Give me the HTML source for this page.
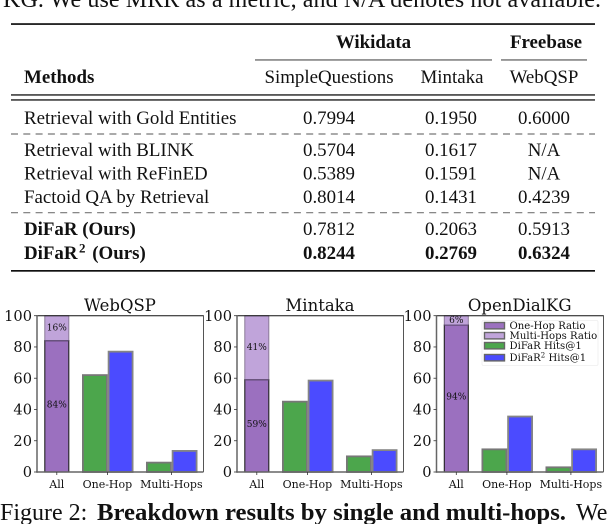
<!DOCTYPE html>
<html>
<head>
<meta charset="utf-8">
<style>
html,body{margin:0;padding:0;background:#fff;width:608px;height:524px;overflow:hidden}
svg{display:block;filter:blur(0.3px)}
.tt{font-family:"Liberation Serif",serif;font-size:18.9px;fill:#111}
.b{font-weight:bold}
.c{text-anchor:middle}
.cap{font-family:"Liberation Serif",serif;font-size:24px;fill:#111}
.dv{font-family:"DejaVu Serif",serif;fill:#111}
</style>
</head>
<body>
<svg id="root" xmlns="http://www.w3.org/2000/svg" width="608" height="524" viewBox="0 0 608 524">
  <text class="cap" x="3" y="7" textLength="598" lengthAdjust="spacing">KG. We use MRR as a metric, and N/A denotes not available.</text>

  <g>
    <rect x="11" y="23.2" width="584" height="1.7" fill="#111"/>
    <rect x="255" y="59.3" width="237" height="1.3" fill="#666"/>
    <rect x="501" y="59.3" width="86" height="1.3" fill="#666"/>
    <rect x="11" y="94.3" width="584" height="1.3" fill="#111"/>
    <rect x="11" y="99.3" width="584" height="1.3" fill="#111"/>
    <line x1="11" x2="595" y1="134" y2="134" stroke="#777" stroke-width="1.2" stroke-dasharray="7 5.3"/>
    <line x1="11" x2="595" y1="212.7" y2="212.7" stroke="#777" stroke-width="1.2" stroke-dasharray="7 5.3"/>
    <rect x="11" y="270" width="584" height="1.7" fill="#111"/>

    <text class="tt b c" x="373.5" y="48">Wikidata</text>
    <text class="tt b c" x="546" y="48">Freebase</text>
    <text class="tt b" x="24" y="83">Methods</text>
    <text class="tt c" x="329" y="83">SimpleQuestions</text>
    <text class="tt c" x="452" y="83">Mintaka</text>
    <text class="tt c" x="544" y="83">WebQSP</text>

    <g>
      <text class="tt" x="24" y="124">Retrieval with Gold Entities</text>
      <text class="tt c" x="329" y="124">0.7994</text><text class="tt c" x="451" y="124">0.1950</text><text class="tt c" x="544" y="124">0.6000</text>
    </g>
    <g>
      <text class="tt" x="24" y="156">Retrieval with BLINK</text>
      <text class="tt c" x="329" y="156">0.5704</text><text class="tt c" x="451" y="156">0.1617</text><text class="tt c" x="544" y="156">N/A</text>
    </g>
    <g>
      <text class="tt" x="24" y="179.5">Retrieval with ReFinED</text>
      <text class="tt c" x="329" y="179.5">0.5389</text><text class="tt c" x="451" y="179.5">0.1591</text><text class="tt c" x="544" y="179.5">N/A</text>
    </g>
    <g>
      <text class="tt" x="24" y="203">Factoid QA by Retrieval</text>
      <text class="tt c" x="329" y="203">0.8014</text><text class="tt c" x="451" y="203">0.1431</text><text class="tt c" x="544" y="203">0.4239</text>
    </g>
    <g>
      <text class="tt b" x="24" y="235">DiFaR (Ours)</text>
      <text class="tt c" x="329" y="235">0.7812</text><text class="tt c" x="451" y="235">0.2063</text><text class="tt c" x="544" y="235">0.5913</text>
    </g>
    <g>
      <text class="tt b" x="24" y="259">DiFaR<tspan font-size="13" dx="1.5" dy="-6.5">2</tspan><tspan dx="2" dy="6.5"> (Ours)</tspan></text>
      <text class="tt b c" x="329" y="259">0.8244</text><text class="tt b c" x="451" y="259">0.2769</text><text class="tt b c" x="544" y="259">0.6324</text>
    </g>
  </g>

  <g id="charts"></g>

  <text class="cap" x="0" y="520">Figure 2:</text>
  <text class="cap b" x="97" y="520" textLength="469" lengthAdjust="spacingAndGlyphs">Breakdown results by single and multi-hops.</text>
  <text class="cap" x="576" y="520">We</text>
</svg>

<script>
const panelTitles = ['WebQSP', 'Mintaka', 'OpenDialKG'];
const categories = ['All', 'One-Hop', 'Multi-Hops'];
const yTicks = [0, 20, 40, 60, 80, 100];
const oneHopRatio = [84, 59, 94];
const multiHopsRatio = [16, 41, 6];
const difarOneHop = [62, 45, 14.5];
const difarMultiHops = [6, 10, 3];
const difar2OneHop = [77, 58.5, 35.5];
const difar2MultiHops = [13.5, 14, 14.5];
const legendLabels = ['One-Hop Ratio', 'Multi-Hops Ratio', 'DiFaR Hits@1', 'DiFaR'];

const NS = 'http://www.w3.org/2000/svg';
const charts = document.getElementById('charts');

function mk(parent, tag, attrs, txt) {
  const el = document.createElementNS(NS, tag);
  for (const k in attrs) el.setAttribute(k, attrs[k]);
  if (txt !== undefined) el.textContent = txt;
  parent.appendChild(el);
  return el;
}
function yScale(v) { return 472 - v * 1.563; }
function panelLeft(p) { return p === 0 ? 37 : p === 1 ? 237 : 436.5; }
function catCenter(p, i) {
  const base = panelLeft(p);
  return i === 0 ? base + 19.8 : base + 70.4 + 64 * (i - 1);
}
function drawBar(g, x, w, v, fill, stroke) {
  const y = yScale(v);
  return mk(g, 'rect', {x: x + 0.5, y: y, width: w - 1, height: 472 - y, fill: fill, stroke: stroke, 'stroke-width': 1.8});
}

panelTitles.forEach(function (title, p) {
  const left = panelLeft(p);
  const right = left + (p === 2 ? 167 : 166.5);
  const g = mk(charts, 'g', {});
  
  

  const titleEl = mk(g, 'text', {class: 'dv', x: (left + right) / 2 - 0.3, y: 311, 'text-anchor': 'middle', 'font-size': 16.5}, title);
  
  

  const allC = catCenter(p, 0);
  const top = mk(g, 'rect', {x: allC - 12, y: yScale(100), width: 24, height: yScale(oneHopRatio[p]) - yScale(100), fill: '#c0a4da', stroke: '#8a7a98', 'stroke-width': 1});
  
  
  const low = mk(g, 'rect', {x: allC - 12, y: yScale(oneHopRatio[p]), width: 24, height: 472 - yScale(oneHopRatio[p]), fill: '#9b70bf', stroke: '#222', 'stroke-width': 1.1});
  
  
  const divider = mk(g, 'line', {x1: allC - 12, x2: allC + 12, y1: yScale(oneHopRatio[p]), y2: yScale(oneHopRatio[p]), stroke: '#6d5585', 'stroke-width': 1.1});
  
  

  const lblLow = mk(g, 'text', {class: 'dv', x: allC, y: yScale(oneHopRatio[p] / 2) + 1, 'text-anchor': 'middle', 'font-size': 9}, oneHopRatio[p] + '%');
  
  
  const lblTop = mk(g, 'text', {class: 'dv', x: allC, y: yScale(oneHopRatio[p] + multiHopsRatio[p] / 2) + 2.5, 'text-anchor': 'middle', 'font-size': 9}, multiHopsRatio[p] + '%');
  
  

  [[difarOneHop, difar2OneHop], [difarMultiHops, difar2MultiHops]].forEach(function (pair, k) {
    const c = catCenter(p, k + 1);
    const gBar = drawBar(g, c - 25, 25, pair[0][p], '#4ca64c', '#777');
    
    
    const bBar = drawBar(g, c + 0.7, 25, pair[1][p], '#4b4bff', '#858585');
    
    
  });

  const spineTop = mk(g, 'line', {x1: left, x2: right, y1: 315.7, y2: 315.7, stroke: '#111', 'stroke-width': 1});
  
  
  const spineRight = mk(g, 'line', {x1: right, x2: right, y1: 315.2, y2: 472, stroke: '#555', 'stroke-width': 1});
  
  
  const spineLeft = mk(g, 'line', {x1: left, x2: left, y1: 315.2, y2: 472.7, stroke: '#666', 'stroke-width': 1.5});
  
  
  const spineBottom = mk(g, 'line', {x1: left, x2: right, y1: 472, y2: 472, stroke: '#666', 'stroke-width': 1.5});
  
  

  yTicks.forEach(function (t) {
    const tick = mk(g, 'line', {x1: left - 3, x2: left, y1: yScale(t), y2: yScale(t), stroke: '#333', 'stroke-width': 0.8});
    
    
    const lab = mk(g, 'text', {class: 'dv', x: left - 5, y: yScale(t) + 5.2, 'text-anchor': 'end', 'font-size': 14.6}, String(t));
    
    
  });

  categories.forEach(function (cat, i) {
    const c = catCenter(p, i);
    const tick = mk(g, 'line', {x1: c, x2: c, y1: 472, y2: 475, stroke: '#333', 'stroke-width': 0.8});
    
    
    const lab = mk(g, 'text', {class: 'dv', x: c, y: 488, 'text-anchor': 'middle', 'font-size': 11}, cat);
    
    
  });
});

const legend = mk(charts, 'g', {});


mk(legend, 'rect', {x: 482, y: 320.5, width: 116, height: 45, rx: 1.5, fill: '#fff', 'fill-opacity': 0.85, stroke: '#eee', 'stroke-width': 0.8});
const legendFills = ['#9b70bf', '#c0a4da', '#4ca64c', '#4b4bff'];
const legendY = [322.5, 332.5, 342.5, 354.5];
legendLabels.forEach(function (label, i) {
  const entry = mk(legend, 'g', {});
  
  
  mk(entry, 'rect', {x: 484.5, y: legendY[i], width: 20, height: 6.4, fill: legendFills[i], stroke: '#666', 'stroke-width': 1.4});
  const t = mk(entry, 'text', {class: 'dv', x: 509.5, y: legendY[i] + 6.4, 'font-size': 10.1}, label);
  if (i === 3) {
    mk(t, 'tspan', {'font-size': 7, dy: -3.5}, '2');
    mk(t, 'tspan', {dy: 3.5}, ' Hits@1');
  }
});
</script>
</body>
</html>
